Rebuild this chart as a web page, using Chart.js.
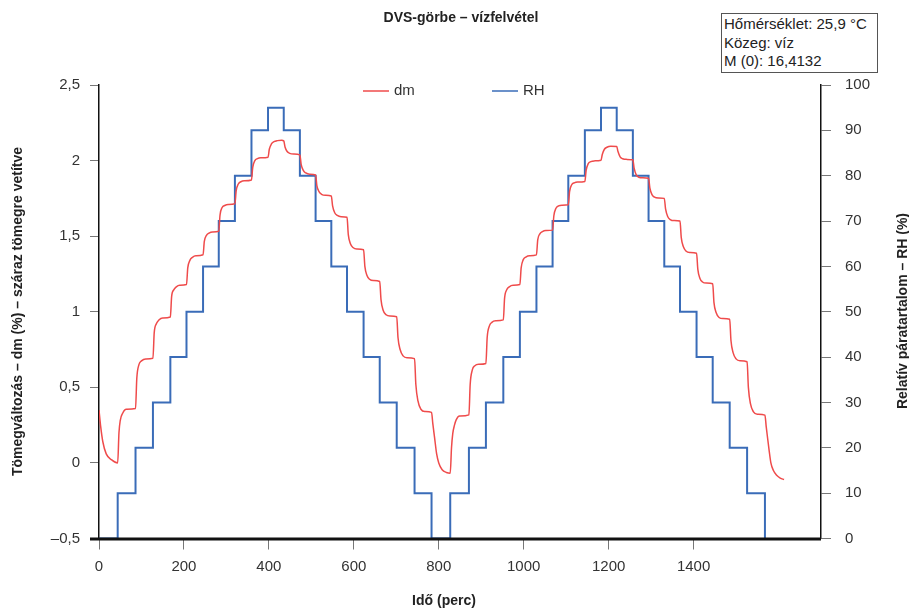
<!DOCTYPE html>
<html>
<head>
<meta charset="utf-8">
<script src="https://cdn.jsdelivr.net/npm/chart.js@4/dist/chart.umd.min.js"></script>
<style>
  html, body { margin: 0; padding: 0; background: #fff; }
  #wrap { position: relative; width: 909px; height: 609px; }
  canvas { display: block; }
  #info {
    position: absolute; left: 721px; top: 13px; width: 153px; height: 57px;
    border: 1px solid #555; background: #fff;
    font: 15px "Liberation Sans", Arial, sans-serif; color: #222;
    line-height: 18.6px; padding: 1px 0 0 2px; box-sizing: content-box;
    white-space: nowrap;
  }
</style>
</head>
<body>
<div id="wrap">
  <canvas id="c" width="909" height="609"></canvas>
  <div id="info">Hőmérséklet: 25,9 °C<br>Közeg: víz<br>M (0): 16,4132</div>
</div>
<script>
// Texts
const chartTitle = 'DVS-görbe – vízfelvétel';
const xTitle = 'Idő (perc)';
const yLeftTitle = 'Tömegváltozás – dm (%) – száraz tömegre vetítve';
const yRightTitle = 'Relatív páratartalom – RH (%)';
const seriesNames = ['dm', 'RH'];

// Relative humidity program: minute at which each level starts, and the level (%)
const rhMinutes = [0, 44, 86, 127, 168, 206, 245, 282, 320, 359, 398, 435, 473, 510, 547, 584,
  623, 661, 701, 743, 783, 827, 871, 911, 952, 991, 1030, 1068, 1105, 1144, 1182, 1219,
  1257, 1294, 1331, 1368, 1407, 1445, 1485, 1526, 1568];
const rhPercent = [0, 10, 20, 30, 40, 50, 60, 70, 80, 90, 95, 90, 80, 70, 60, 50,
  40, 30, 20, 10, 0, 10, 20, 30, 40, 50, 60, 70, 80, 90, 95, 90,
  80, 70, 60, 50, 40, 30, 20, 10, 0];

// Mass change (%) recorded against time (min)
const dmMinutes = [
  0, 4, 9, 17, 30, 44,
  47, 50, 56, 64, 86,
  89, 94, 100, 110, 127,
  130, 135, 141, 150, 168,
  171, 176, 182, 190, 206,
  209, 214, 220, 228, 245,
  248, 253, 259, 267, 282,
  285, 290, 296, 304, 320,
  323, 328, 334, 342, 359,
  362, 367, 373, 381, 398,
  401, 406, 412, 420, 430, 435,
  438, 443, 449, 458, 473,
  476, 481, 487, 496, 510,
  513, 518, 524, 533, 547,
  550, 555, 561, 570, 584,
  587, 592, 598, 607, 623,
  626, 631, 637, 646, 661,
  664, 669, 676, 685, 701,
  704, 709, 716, 725, 743,
  746, 751, 758, 767, 783,
  786, 790, 795, 800, 808, 818, 827,
  830, 833, 837, 841, 849, 871,
  874, 879, 885, 894, 911,
  914, 919, 925, 934, 952,
  955, 960, 966, 975, 991,
  994, 999, 1005, 1014, 1030,
  1033, 1038, 1044, 1052, 1068,
  1071, 1076, 1082, 1090, 1105,
  1108, 1113, 1119, 1127, 1144,
  1147, 1152, 1158, 1166, 1182,
  1185, 1190, 1196, 1205, 1219,
  1222, 1227, 1233, 1242, 1257,
  1260, 1265, 1271, 1280, 1294,
  1297, 1302, 1308, 1317, 1331,
  1334, 1339, 1345, 1354, 1368,
  1371, 1376, 1382, 1391, 1407,
  1410, 1415, 1421, 1430, 1445,
  1448, 1453, 1460, 1469, 1485,
  1488, 1493, 1500, 1509, 1526,
  1529, 1534, 1541, 1550, 1568,
  1571, 1574, 1578, 1582, 1588, 1595, 1604, 1613
];
const dmPercent = [
  0.35, 0.24, 0.14, 0.06, 0.02, 0.0,
  0.2, 0.28, 0.33, 0.355, 0.36,
  0.56, 0.65, 0.675, 0.688, 0.692,
  0.86, 0.92, 0.945, 0.958, 0.965,
  1.10, 1.145, 1.165, 1.175, 1.18,
  1.29, 1.34, 1.36, 1.37, 1.377,
  1.465, 1.505, 1.52, 1.528, 1.533,
  1.64, 1.69, 1.703, 1.71, 1.715,
  1.80, 1.845, 1.86, 1.866, 1.872,
  1.955, 2.0, 2.013, 2.018, 2.022,
  2.075, 2.11, 2.125, 2.132, 2.134, 2.13,
  2.09, 2.06, 2.048, 2.043, 2.038,
  1.975, 1.935, 1.918, 1.91, 1.905,
  1.835, 1.795, 1.777, 1.77, 1.766,
  1.70, 1.655, 1.637, 1.629, 1.625,
  1.51, 1.45, 1.425, 1.415, 1.41,
  1.30, 1.24, 1.215, 1.206, 1.20,
  1.08, 1.01, 0.98, 0.972, 0.967,
  0.83, 0.75, 0.708, 0.696, 0.69,
  0.52, 0.41, 0.355, 0.34, 0.334,
  0.26, 0.17, 0.06, 0.0, -0.045, -0.063, -0.068,
  0.10, 0.195, 0.25, 0.285, 0.31, 0.318,
  0.52, 0.615, 0.643, 0.652, 0.658,
  0.83, 0.905, 0.93, 0.94, 0.946,
  1.09, 1.145, 1.165, 1.175, 1.18,
  1.29, 1.345, 1.362, 1.37, 1.376,
  1.475, 1.515, 1.53, 1.537, 1.54,
  1.635, 1.685, 1.70, 1.705, 1.708,
  1.795, 1.84, 1.853, 1.858, 1.862,
  1.935, 1.98, 1.993, 1.998, 2.002,
  2.04, 2.075, 2.088, 2.094, 2.093,
  2.06, 2.025, 2.012, 2.008, 2.005,
  1.95, 1.905, 1.89, 1.886, 1.883,
  1.82, 1.775, 1.758, 1.753, 1.75,
  1.68, 1.63, 1.61, 1.603, 1.60,
  1.49, 1.43, 1.402, 1.392, 1.387,
  1.28, 1.22, 1.197, 1.19, 1.185,
  1.06, 0.995, 0.962, 0.955, 0.95,
  0.81, 0.73, 0.688, 0.676, 0.669,
  0.50, 0.39, 0.338, 0.322, 0.316,
  0.24, 0.17, 0.08, 0.0, -0.05, -0.08, -0.1, -0.11
];

// Axis ranges and tick steps
const xRange = [0, 1700], xStep = 200, xLastLabel = 1600;
const dmRange = [-0.5, 2.5], dmStep = 0.5;
const rhRange = [0, 100], rhStep = 10;

const FONT = '"Liberation Sans", Arial, Helvetica, sans-serif';
const RED = '#ef4b4b';
const BLUE = '#3a6cb8';

const huNum = v => (v < 0 ? '–' : '') + String(Math.abs(v)).replace('.', ',');

// Titles, inline legend and the heavy baseline
const decorations = {
  id: 'decorations',
  afterDatasetsDraw(chart) {
    const { ctx, chartArea } = chart;
    ctx.save();
    ctx.strokeStyle = '#111';
    ctx.lineWidth = 3;
    ctx.beginPath();
    ctx.moveTo(90, chartArea.bottom + 0.5);
    ctx.lineTo(chartArea.right, chartArea.bottom + 0.5);
    ctx.stroke();
    ctx.restore();
  },
  afterDraw(chart) {
    const { ctx } = chart;
    ctx.save();
    ctx.fillStyle = '#222';
    ctx.textBaseline = 'middle';
    ctx.textAlign = 'center';
    ctx.font = 'bold 14px ' + FONT;
    ctx.fillText(chartTitle, 461, 18);
    ctx.fillText(xTitle, 444, 601);

    ctx.save();
    ctx.translate(18.5, 311.5);
    ctx.rotate(-Math.PI / 2);
    ctx.fillText(yLeftTitle, 0, 0);
    ctx.restore();

    ctx.save();
    ctx.translate(903.5, 311);
    ctx.rotate(-Math.PI / 2);
    ctx.fillText(yRightTitle, 0, 0);
    ctx.restore();

    // legend
    const items = [
      { x: 363, color: chart.data.datasets[0].borderColor, label: chart.data.datasets[0].label },
      { x: 492, color: chart.data.datasets[1].borderColor, label: chart.data.datasets[1].label }
    ];
    ctx.font = '15px ' + FONT;
    ctx.textAlign = 'left';
    ctx.fillStyle = '#333';
    items.forEach(it => {
      ctx.strokeStyle = it.color;
      ctx.lineWidth = 1.5;
      ctx.beginPath();
      ctx.moveTo(it.x, 91);
      ctx.lineTo(it.x + 26, 91);
      ctx.stroke();
      ctx.fillText(it.label, it.x + 31, 91);
    });
    ctx.restore();
  }
};

new Chart(document.getElementById('c'), {
  type: 'line',
  data: {
    datasets: [
      {
        label: seriesNames[0],
        data: dmMinutes.map((t, i) => ({ x: t, y: dmPercent[i] })),
        yAxisID: 'y',
        borderColor: RED,
        borderWidth: 1.5,
        pointRadius: 0,
        cubicInterpolationMode: 'monotone',
        fill: false
      },
      {
        label: seriesNames[1],
        data: rhMinutes.map((t, i) => ({ x: t, y: rhPercent[i] })),
        yAxisID: 'y1',
        borderColor: BLUE,
        borderWidth: 2,
        pointRadius: 0,
        stepped: true,
        fill: false
      }
    ]
  },
  options: {
    responsive: false,
    animation: false,
    devicePixelRatio: 1,
    layout: { padding: { top: 85, left: 0, right: 0, bottom: 0 } },
    plugins: { legend: { display: false }, title: { display: false }, tooltip: { enabled: false } },
    scales: {
      x: {
        type: 'linear',
        min: xRange[0], max: xRange[1],
        afterFit: s => { s.height = 70.5; },
        afterBuildTicks: s => { s.ticks = s.ticks.filter(t => t.value <= xLastLabel); },
        ticks: { stepSize: xStep, color: '#333', font: { family: FONT, size: 15 }, padding: 8, maxRotation: 0, callback: v => String(v) },
        grid: { drawOnChartArea: false, drawTicks: true, tickLength: 11, tickColor: '#777', tickWidth: 1 },
        border: { display: false }
      },
      y: {
        position: 'left',
        min: dmRange[0], max: dmRange[1],
        afterFit: s => { s.width = 99; },
        ticks: { stepSize: dmStep, color: '#333', font: { family: FONT, size: 15 }, padding: 10, callback: v => huNum(v) },
        grid: { drawOnChartArea: false, drawTicks: true, tickLength: 9, tickColor: '#777', tickWidth: 1 },
        border: { display: true, color: '#111', width: 1.5 }
      },
      y1: {
        position: 'right',
        min: rhRange[0], max: rhRange[1],
        afterFit: s => { s.width = 88; },
        ticks: { stepSize: rhStep, color: '#333', font: { family: FONT, size: 15 }, padding: 14 },
        grid: { drawOnChartArea: false, drawTicks: true, tickLength: 10, tickColor: '#777', tickWidth: 1 },
        border: { display: true, color: '#111', width: 1.5 }
      }
    }
  },
  plugins: [decorations]
});
</script>
</body>
</html>
